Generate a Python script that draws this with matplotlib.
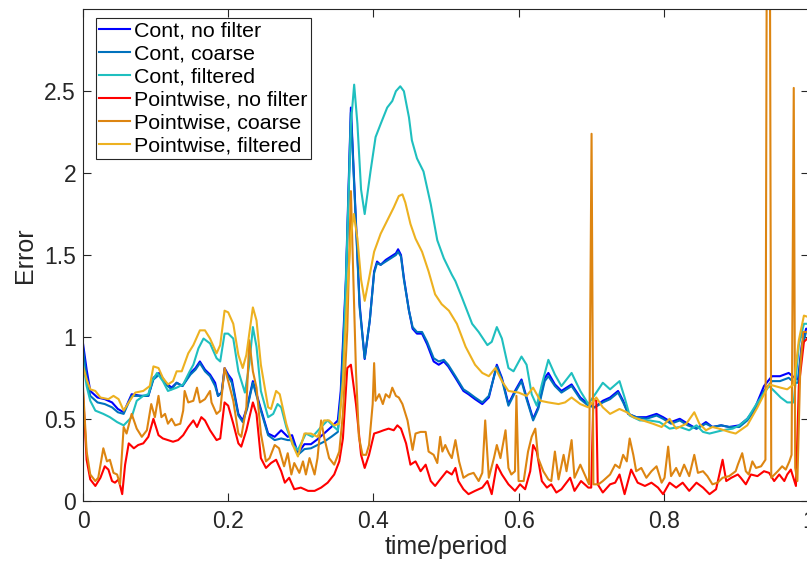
import matplotlib
matplotlib.use("Agg")
import matplotlib.pyplot as plt
from matplotlib.ticker import FuncFormatter

plt.rcParams["font.family"] = ["Liberation Sans", "DejaVu Sans"]

# knots shared by the two "Cont" blue series
t_cont = [0.000, 0.005, 0.010, 0.020, 0.030, 0.040, 0.048, 0.056, 0.067, 0.080,
          0.090, 0.097, 0.105, 0.114, 0.122, 0.129, 0.137, 0.148, 0.155, 0.161,
          0.168, 0.175, 0.182, 0.186, 0.191, 0.195, 0.200, 0.205, 0.214, 0.220,
          0.226, 0.234, 0.243, 0.255, 0.264, 0.273, 0.282, 0.288, 0.296, 0.305,
          0.314, 0.323, 0.332, 0.342, 0.351, 0.355, 0.362, 0.369, 0.375, 0.381,
          0.388, 0.395, 0.401, 0.405, 0.410, 0.417, 0.424, 0.431, 0.434, 0.438,
          0.442, 0.449, 0.454, 0.460, 0.467, 0.474, 0.483, 0.490, 0.497, 0.503,
          0.513, 0.524, 0.531, 0.540, 0.550, 0.559, 0.570, 0.577, 0.586, 0.595,
          0.604, 0.611, 0.620, 0.627, 0.636, 0.641, 0.650, 0.659, 0.673, 0.685,
          0.696, 0.705, 0.716, 0.726, 0.737, 0.744, 0.751, 0.762, 0.776, 0.790,
          0.799, 0.810, 0.822, 0.833, 0.845, 0.858, 0.867, 0.879, 0.890, 0.904,
          0.915, 0.925, 0.938, 0.949, 0.960, 0.972, 0.980, 0.985, 0.990, 0.996,
          1.000]
cont_nofilter = [0.96, 0.80, 0.67, 0.63, 0.62, 0.60, 0.56, 0.54, 0.65, 0.64,
                 0.64, 0.75, 0.78, 0.72, 0.69, 0.72, 0.70, 0.78, 0.81, 0.85,
                 0.80, 0.77, 0.72, 0.64, 0.66, 0.81, 0.77, 0.74, 0.53, 0.49,
                 0.57, 0.73, 0.59, 0.41, 0.39, 0.43, 0.39, 0.40, 0.29, 0.345,
                 0.345, 0.375, 0.41, 0.45, 0.49, 0.67, 1.34, 2.40, 1.80, 1.20,
                 0.865, 1.10, 1.40, 1.46, 1.44, 1.47, 1.49, 1.51, 1.535, 1.50,
                 1.36, 1.16, 1.05, 1.02, 1.02, 0.955, 0.85, 0.83, 0.85, 0.82,
                 0.75, 0.67, 0.65, 0.62, 0.59, 0.63, 0.83, 0.75, 0.59, 0.67,
                 0.74, 0.63, 0.50, 0.57, 0.75, 0.78, 0.71, 0.67, 0.71, 0.63,
                 0.59, 0.57, 0.61, 0.63, 0.67, 0.61, 0.53, 0.51, 0.51, 0.53,
                 0.51, 0.48, 0.50, 0.47, 0.44, 0.48, 0.45, 0.46, 0.45, 0.46,
                 0.50, 0.56, 0.70, 0.76, 0.76, 0.78, 0.75, 0.74, 0.95, 1.05,
                 1.05]
cont_coarse = [0.93, 0.75, 0.64, 0.60, 0.59, 0.57, 0.54, 0.53, 0.64, 0.64,
               0.64, 0.74, 0.77, 0.71, 0.68, 0.72, 0.70, 0.77, 0.80, 0.84,
               0.79, 0.76, 0.70, 0.64, 0.66, 0.80, 0.76, 0.72, 0.52, 0.48,
               0.56, 0.72, 0.58, 0.40, 0.37, 0.38, 0.37, 0.37, 0.28, 0.315,
               0.32, 0.34, 0.36, 0.39, 0.42, 0.62, 1.30, 2.37, 1.78, 1.18,
               0.87, 1.10, 1.39, 1.45, 1.44, 1.46, 1.48, 1.50, 1.52, 1.49,
               1.35, 1.16, 1.06, 1.03, 1.03, 0.97, 0.87, 0.85, 0.86, 0.83,
               0.76, 0.68, 0.66, 0.63, 0.60, 0.64, 0.82, 0.74, 0.58, 0.66,
               0.73, 0.62, 0.49, 0.56, 0.73, 0.76, 0.70, 0.66, 0.70, 0.62,
               0.58, 0.57, 0.60, 0.62, 0.66, 0.60, 0.53, 0.51, 0.50, 0.52,
               0.50, 0.47, 0.49, 0.46, 0.44, 0.47, 0.45, 0.46, 0.45, 0.45,
               0.49, 0.55, 0.67, 0.73, 0.73, 0.75, 0.72, 0.72, 0.93, 1.03,
               1.03]

t_filt = [0.000, 0.005, 0.010, 0.017, 0.028, 0.037, 0.047, 0.056, 0.067, 0.074,
          0.083, 0.090, 0.095, 0.102, 0.110, 0.117, 0.129, 0.138, 0.147, 0.152,
          0.159, 0.166, 0.175, 0.184, 0.189, 0.195, 0.200, 0.207, 0.214, 0.223,
          0.229, 0.234, 0.239, 0.245, 0.255, 0.262, 0.268, 0.273, 0.280, 0.289,
          0.296, 0.307, 0.316, 0.328, 0.337, 0.346, 0.351, 0.358, 0.364, 0.369,
          0.3735, 0.378, 0.383, 0.388, 0.396, 0.403, 0.410, 0.419, 0.426, 0.431,
          0.437, 0.442, 0.449, 0.453, 0.460, 0.469, 0.479, 0.488, 0.497, 0.508,
          0.513, 0.522, 0.536, 0.545, 0.557, 0.563, 0.570, 0.577, 0.586, 0.593,
          0.604, 0.611, 0.618, 0.625, 0.632, 0.641, 0.650, 0.659, 0.673, 0.685,
          0.696, 0.707, 0.716, 0.726, 0.739, 0.746, 0.753, 0.767, 0.780, 0.794,
          0.808, 0.822, 0.835, 0.845, 0.854, 0.863, 0.872, 0.881, 0.895, 0.904,
          0.915, 0.929, 0.945, 0.952, 0.961, 0.970, 0.979, 0.986, 0.993, 1.000]
cont_filtered = [0.85, 0.70, 0.61, 0.55, 0.53, 0.51, 0.48, 0.46, 0.51, 0.61,
                 0.64, 0.65, 0.73, 0.78, 0.73, 0.67, 0.69, 0.71, 0.79, 0.83,
                 0.93, 0.99, 0.96, 0.87, 0.85, 1.02, 1.02, 0.99, 0.79, 0.66,
                 0.83, 1.06, 0.94, 0.67, 0.51, 0.53, 0.59, 0.57, 0.45, 0.34,
                 0.31, 0.41, 0.39, 0.45, 0.49, 0.45, 0.43, 0.73, 1.60, 2.30,
                 2.54, 2.30, 1.90, 1.75, 2.01, 2.22, 2.30, 2.40, 2.44, 2.50,
                 2.53, 2.50, 2.34, 2.20, 2.09, 2.01, 1.81, 1.59, 1.48, 1.38,
                 1.34, 1.24, 1.08, 1.03, 0.95, 0.97, 1.06, 0.99, 0.81, 0.79,
                 0.88, 0.83, 0.65, 0.58, 0.71, 0.86, 0.77, 0.70, 0.78, 0.67,
                 0.59, 0.66, 0.72, 0.68, 0.73, 0.63, 0.52, 0.49, 0.49, 0.48,
                 0.44, 0.45, 0.43, 0.46, 0.42, 0.41, 0.42, 0.43, 0.44, 0.46,
                 0.50, 0.60, 0.70, 0.67, 0.63, 0.60, 0.60, 0.95, 1.08, 1.08]

t_pw_red = [0.000, 0.005, 0.010, 0.017, 0.024, 0.030, 0.035, 0.040, 0.044, 0.049,
            0.054, 0.058, 0.063, 0.070, 0.076, 0.083, 0.090, 0.097, 0.104, 0.110,
            0.117, 0.124, 0.131, 0.138, 0.145, 0.152, 0.157, 0.163, 0.168, 0.175,
            0.184, 0.189, 0.195, 0.200, 0.207, 0.214, 0.218, 0.225, 0.234, 0.239,
            0.245, 0.252, 0.259, 0.266, 0.273, 0.278, 0.284, 0.291, 0.300, 0.310,
            0.319, 0.328, 0.337, 0.346, 0.353, 0.358, 0.364, 0.369, 0.376, 0.383,
            0.388, 0.394, 0.401, 0.408, 0.414, 0.421, 0.428, 0.433, 0.438, 0.445,
            0.451, 0.458, 0.465, 0.472, 0.479, 0.485, 0.492, 0.501, 0.508, 0.513,
            0.517, 0.524, 0.531, 0.540, 0.550, 0.557, 0.563, 0.570, 0.577, 0.586,
            0.595, 0.602, 0.609, 0.616, 0.620, 0.625, 0.632, 0.639, 0.645, 0.652,
            0.659, 0.671, 0.677, 0.686, 0.696, 0.700, 0.703, 0.707, 0.709, 0.716,
            0.726, 0.733, 0.739, 0.746, 0.755, 0.764, 0.774, 0.783, 0.792, 0.799,
            0.808, 0.817, 0.826, 0.835, 0.845, 0.854, 0.863, 0.872, 0.881, 0.886,
            0.893, 0.902, 0.906, 0.913, 0.920, 0.929, 0.938, 0.945, 0.952, 0.959,
            0.966, 0.970, 0.975, 0.982, 0.986, 0.993, 1.000]
pw_nofilter = [0.66, 0.25, 0.13, 0.09, 0.14, 0.21, 0.19, 0.12, 0.11, 0.13,
               0.04, 0.22, 0.35, 0.32, 0.34, 0.35, 0.39, 0.50, 0.40, 0.38,
               0.37, 0.36, 0.37, 0.40, 0.45, 0.49, 0.45, 0.51, 0.49, 0.43,
               0.37, 0.38, 0.60, 0.58, 0.47, 0.35, 0.33, 0.43, 0.60, 0.53,
               0.26, 0.20, 0.23, 0.25, 0.18, 0.11, 0.14, 0.07, 0.08, 0.06,
               0.06, 0.08, 0.11, 0.16, 0.24, 0.38, 0.81, 0.83, 0.59, 0.28,
               0.20, 0.28, 0.41, 0.42, 0.43, 0.44, 0.43, 0.46, 0.44, 0.35,
               0.22, 0.24, 0.18, 0.22, 0.12, 0.09, 0.13, 0.18, 0.16, 0.20,
               0.12, 0.07, 0.04, 0.06, 0.08, 0.12, 0.04, 0.22, 0.16, 0.10,
               0.06, 0.10, 0.07, 0.18, 0.34, 0.30, 0.12, 0.08, 0.10, 0.05,
               0.07, 0.14, 0.06, 0.12, 0.08, 0.08, 0.62, 0.61, 0.10, 0.05,
               0.10, 0.11, 0.16, 0.04, 0.19, 0.11, 0.09, 0.11, 0.08, 0.04,
               0.11, 0.08, 0.11, 0.06, 0.11, 0.08, 0.04, 0.07, 0.25, 0.12,
               0.14, 0.16, 0.14, 0.10, 0.16, 0.15, 0.18, 0.17, 0.12, 0.16,
               0.12, 0.16, 0.19, 0.09, 0.70, 0.97, 1.00]

t_pw_coarse = [0.000, 0.005, 0.010, 0.017, 0.021, 0.028, 0.033, 0.037, 0.042, 0.047,
               0.051, 0.056, 0.060, 0.067, 0.074, 0.081, 0.088, 0.094, 0.099, 0.104,
               0.108, 0.113, 0.117, 0.122, 0.127, 0.134, 0.138, 0.140, 0.145, 0.152,
               0.157, 0.161, 0.168, 0.175, 0.177, 0.184, 0.189, 0.195, 0.200, 0.207,
               0.214, 0.218, 0.225, 0.229, 0.234, 0.239, 0.245, 0.252, 0.257, 0.264,
               0.270, 0.277, 0.282, 0.287, 0.291, 0.298, 0.303, 0.307, 0.312, 0.319,
               0.323, 0.328, 0.332, 0.339, 0.346, 0.353, 0.358, 0.364, 0.369, 0.376,
               0.380, 0.385, 0.390, 0.394, 0.399, 0.401, 0.403, 0.408, 0.413, 0.417,
               0.422, 0.426, 0.431, 0.435, 0.440, 0.447, 0.454, 0.458, 0.465, 0.472,
               0.476, 0.483, 0.488, 0.492, 0.495, 0.499, 0.504, 0.508, 0.513, 0.518,
               0.524, 0.531, 0.538, 0.545, 0.550, 0.554, 0.559, 0.566, 0.570, 0.575,
               0.582, 0.586, 0.590, 0.595, 0.597, 0.600, 0.607, 0.613, 0.618, 0.623,
               0.627, 0.634, 0.641, 0.645, 0.650, 0.655, 0.662, 0.666, 0.673, 0.677,
               0.685, 0.691, 0.697, 0.7005, 0.703, 0.710, 0.716, 0.726, 0.733, 0.739,
               0.744, 0.749, 0.753, 0.758, 0.762, 0.769, 0.776, 0.783, 0.790, 0.797,
               0.801, 0.806, 0.810, 0.817, 0.822, 0.828, 0.835, 0.842, 0.847, 0.854,
               0.860, 0.867, 0.874, 0.881, 0.890, 0.899, 0.902, 0.908, 0.913, 0.917,
               0.922, 0.927, 0.934, 0.940, 0.9425, 0.9455, 0.948, 0.957, 0.963, 0.968,
               0.973, 0.976, 0.979, 0.981, 0.984, 0.988, 0.992, 1.000]
pw_coarse = [0.69, 0.30, 0.16, 0.12, 0.14, 0.32, 0.24, 0.25, 0.17, 0.16,
             0.10, 0.45, 0.41, 0.53, 0.44, 0.39, 0.43, 0.59, 0.51, 0.64,
             0.51, 0.53, 0.47, 0.50, 0.46, 0.47, 0.55, 0.67, 0.60, 0.61,
             0.69, 0.60, 0.62, 0.67, 0.60, 0.53, 0.55, 0.81, 0.73, 0.61,
             0.41, 0.39, 0.57, 0.98, 0.79, 0.69, 0.41, 0.24, 0.26, 0.34,
             0.32, 0.21, 0.29, 0.16, 0.23, 0.17, 0.24, 0.16, 0.26, 0.16,
             0.26, 0.49, 0.39, 0.26, 0.22, 0.30, 0.53, 1.04, 1.89, 0.79,
             0.39, 0.28, 0.28, 0.34, 0.59, 0.84, 0.61, 0.65, 0.59, 0.65,
             0.63, 0.69, 0.64, 0.63, 0.59, 0.49, 0.31, 0.41, 0.42, 0.42,
             0.30, 0.28, 0.23, 0.39, 0.30, 0.34, 0.29, 0.26, 0.37, 0.24,
             0.14, 0.16, 0.17, 0.12, 0.17, 0.49, 0.14, 0.26, 0.34, 0.26,
             0.43, 0.20, 0.16, 0.18, 0.64, 0.12, 0.12, 0.30, 0.39, 0.44,
             0.26, 0.18, 0.13, 0.12, 0.30, 0.13, 0.28, 0.18, 0.37, 0.14,
             0.22, 0.16, 0.10, 2.24, 0.10, 0.10, 0.12, 0.16, 0.22, 0.20,
             0.28, 0.24, 0.38, 0.28, 0.18, 0.20, 0.14, 0.18, 0.21, 0.11,
             0.14, 0.33, 0.15, 0.20, 0.15, 0.22, 0.15, 0.28, 0.17, 0.18,
             0.15, 0.10, 0.11, 0.14, 0.15, 0.18, 0.22, 0.29, 0.18, 0.16,
             0.24, 0.20, 0.21, 0.25, 4.50, 4.50, 0.14, 0.18, 0.21, 0.19,
             0.24, 0.28, 2.52, 0.20, 0.12, 0.81, 1.03, 1.03]

t_pw_filt = [0.000, 0.005, 0.010, 0.017, 0.024, 0.035, 0.042, 0.049, 0.056, 0.063,
             0.072, 0.083, 0.092, 0.097, 0.104, 0.110, 0.117, 0.124, 0.129, 0.136,
             0.145, 0.152, 0.161, 0.168, 0.175, 0.184, 0.189, 0.195, 0.200, 0.207,
             0.214, 0.220, 0.225, 0.234, 0.239, 0.245, 0.255, 0.259, 0.266, 0.271,
             0.280, 0.289, 0.296, 0.305, 0.314, 0.323, 0.332, 0.339, 0.346, 0.353,
             0.358, 0.364, 0.369, 0.373, 0.378, 0.383, 0.388, 0.395, 0.401, 0.410,
             0.419, 0.428, 0.435, 0.440, 0.444, 0.451, 0.458, 0.467, 0.476, 0.485,
             0.494, 0.504, 0.515, 0.527, 0.540, 0.550, 0.559, 0.568, 0.577, 0.586,
             0.600, 0.611, 0.620, 0.630, 0.641, 0.655, 0.664, 0.673, 0.685, 0.696,
             0.707, 0.716, 0.726, 0.739, 0.749, 0.758, 0.771, 0.785, 0.797, 0.808,
             0.817, 0.831, 0.842, 0.849, 0.858, 0.867, 0.876, 0.890, 0.899, 0.915,
             0.929, 0.945, 0.961, 0.970, 0.979, 0.986, 0.993, 1.000]
pw_filtered = [0.82, 0.74, 0.68, 0.67, 0.63, 0.62, 0.64, 0.62, 0.55, 0.60,
               0.66, 0.67, 0.70, 0.82, 0.81, 0.75, 0.71, 0.73, 0.79, 0.79,
               0.90, 0.95, 1.04, 1.04, 0.99, 0.90, 0.95, 1.16, 1.15, 1.08,
               0.89, 0.81, 0.89, 1.18, 1.10, 0.83, 0.57, 0.56, 0.67, 0.65,
               0.47, 0.34, 0.27, 0.41, 0.41, 0.39, 0.49, 0.49, 0.46, 0.47,
               0.73, 1.26, 1.62, 1.75, 1.60, 1.35, 1.22, 1.38, 1.52, 1.63,
               1.71, 1.79, 1.86, 1.87, 1.82, 1.69, 1.60, 1.52, 1.40, 1.26,
               1.20, 1.16, 1.08, 0.94, 0.83, 0.78, 0.76, 0.81, 0.73, 0.67,
               0.66, 0.64, 0.69, 0.61, 0.60, 0.59, 0.60, 0.63, 0.59, 0.57,
               0.63, 0.57, 0.53, 0.56, 0.54, 0.51, 0.49, 0.47, 0.45, 0.50,
               0.44, 0.47, 0.54, 0.47, 0.43, 0.45, 0.44, 0.42, 0.41, 0.46,
               0.57, 0.71, 0.69, 0.68, 0.71, 0.98, 1.13, 1.12]

x_ticks = [0, 0.2, 0.4, 0.6, 0.8, 1]
y_ticks = [0, 0.5, 1, 1.5, 2, 2.5]

series = [
    (t_cont, cont_nofilter, "Cont, no filter", "#0000ff"),
    (t_cont, cont_coarse, "Cont, coarse", "#0072bd"),
    (t_filt, cont_filtered, "Cont, filtered", "#1fbfbf"),
    (t_pw_red, pw_nofilter, "Pointwise, no filter", "#ff0000"),
    (t_pw_coarse, pw_coarse, "Pointwise, coarse", "#dd8511"),
    (t_pw_filt, pw_filtered, "Pointwise, filtered", "#edb120"),
]

ink = "#262626"
fig = plt.figure(figsize=(8.07, 5.61), dpi=100)
# axes run past the right edge of the picture, as in the cropped original
ax = fig.add_axes([83 / 807, 60.3 / 561, 726 / 807, 491.4 / 561])

for t, err, label, color in series:
    ax.plot(t, err, color=color, linewidth=1.5, label=label)

ax.set_xlim(0, 1)
ax.set_ylim(0, 3)
ax.set_xticks(x_ticks)
ax.set_yticks(y_ticks)
fmt = FuncFormatter(lambda v, pos: f"{v:g}")
ax.xaxis.set_major_formatter(fmt)
ax.yaxis.set_major_formatter(fmt)
ax.tick_params(direction="in", length=6, width=0.8, top=True, right=True,
               colors=ink, labelsize=16.5)
ax.tick_params(axis="y", pad=5)
ax.tick_params(axis="x", pad=7)
for sp in ax.spines.values():
    sp.set_color(ink)
    sp.set_linewidth(0.8)

ax.set_xlabel("time/period", fontsize=18, color=ink, labelpad=1)
ax.set_ylabel("Error", fontsize=18, color=ink, labelpad=5)

leg = ax.legend(loc="upper left", bbox_to_anchor=(13 / 726, 482.7 / 491.4),
                borderaxespad=0, fontsize=15.4, fancybox=False, framealpha=1,
                edgecolor=ink, handlelength=1.45, handletextpad=0.2,
                labelspacing=0.19, borderpad=0.15)
leg.get_frame().set_linewidth(0.8)

fig.savefig("out.png", dpi=100)
